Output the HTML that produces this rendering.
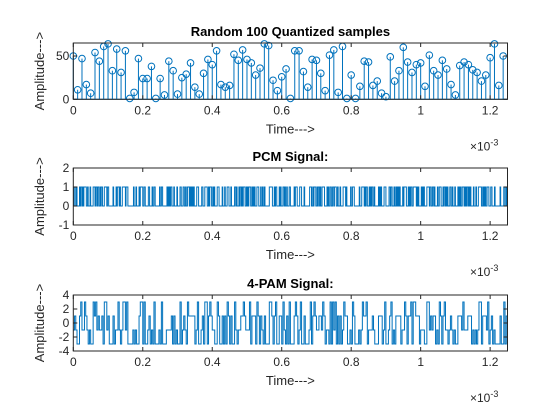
<!DOCTYPE html>
<html><head><meta charset="utf-8"><style>
body{margin:0;background:#fff;}
svg{display:block;font-family:"Liberation Sans",Arial,sans-serif;}
</style></head><body>
<svg id="fig" width="560" height="420" viewBox="0 0 560 420"></svg>
<script>
const samples=[50,11,47,17,7,54,44,61,64,33,58,31,56,1,8,47,24,24,38,1,24,5,44,33,6,25,29,42,14,6,30,46,40,56,17,14,16,52,45,57,46,42,28,36,64,62,22,10,26,35,1,56,56,32,14,46,45,30,10,51,57,8,61,1,28,1,15,44,43,16,21,7,3,49,21,33,60,43,31,40,42,15,51,33,28,45,35,17,5,39,43,40,34,31,21,28,48,64,16,50];
const xTicks=[0,0.2,0.4,0.6,0.8,1,1.2];
const xTickLabels=["0","0.2","0.4","0.6","0.8","1","1.2"];
const topYTicks=[0,50];
const pcmYTicks=[-1,0,1,2];
const pamYTicks=[-4,-2,0,2,4];
const pamLevels=[-3,-1,1,3];
const bitsPerSample=7;
const tMax=1.25; // x10^-3

const NS="http://www.w3.org/2000/svg";
const svg=document.getElementById('fig');
function el(tag,attrs,parent){const e=document.createElementNS(NS,tag);for(const k in attrs)e.setAttribute(k,attrs[k]);(parent||svg).appendChild(e);return e;}
function txt(s,attrs){const t=el('text',attrs);t.textContent=s;return t;}

const X0=73.3,X1=507.5;
const panels=[
 {name:'samples',top:43,bot:99.3,ymin:0,ymax:65,yt:topYTicks,title:'Random 100 Quantized samples',ty:36},
 {name:'pcm',top:168,bot:225,ymin:-1,ymax:2,yt:pcmYTicks,title:'PCM Signal:',ty:161},
 {name:'pam',top:295,bot:351,ymin:-4,ymax:4,yt:pamYTicks,title:'4-PAM Signal:',ty:288}
];
const xs=t=>X0+(t/tMax)*(X1-X0);
const blue='#0072BD';

const bits=[];
samples.forEach(v=>{for(let b=bitsPerSample-1;b>=0;b--)bits.push((v>>b)&1);});
const pam=[];
for(let i=0;i<bits.length;i+=2){pam.push(pamLevels[bits[i]*2+(bits[i+1]||0)]);}

panels.forEach(p=>{
 const ys=v=>p.bot-(v-p.ymin)/(p.ymax-p.ymin)*(p.bot-p.top);
 const g=el('g',{});
 
 
 if(p.name==='samples'){
  samples.forEach((v,i)=>{
   const t=i*tMax/samples.length, x=xs(t);
   const ln=el('line',{x1:x,y1:ys(0),x2:x,y2:ys(v),stroke:blue,'stroke-width':1},g);
   
   
   const c=el('circle',{cx:x,cy:ys(v),r:3.3,fill:'none',stroke:blue,'stroke-width':1},g);
   
   
  });
  const bl=el('line',{x1:X0,y1:ys(0),x2:X1,y2:ys(0),stroke:blue,'stroke-width':1},g);
  
  
 } else {
  const arr=p.name==='pcm'?bits:pam;
  const dt=tMax/arr.length;
  let d='';
  arr.forEach((v,i)=>{const xa=xs(i*dt),xb=xs((i+1)*dt),y=ys(v);d+=(i===0?'M':'L')+xa.toFixed(2)+','+y.toFixed(2)+'L'+xb.toFixed(2)+','+y.toFixed(2);});
  const path=el('path',{d:d,fill:'none',stroke:blue,'stroke-width':1},g);
  
  
 }
 const box=el('rect',{x:X0,y:p.top,width:X1-X0,height:p.bot-p.top,fill:'none',stroke:'#262626','stroke-width':1},g);
 
 
 xTicks.forEach((t,i)=>{
  const x=xs(t);
  el('line',{x1:x,y1:p.bot,x2:x,y2:p.bot-4,stroke:'#262626'},g);
  el('line',{x1:x,y1:p.top,x2:x,y2:p.top+4,stroke:'#262626'},g);
  const l=txt(xTickLabels[i],{x:x,y:p.bot+15,'font-size':12,'text-anchor':'middle',fill:'#262626'});
  
  
 });
 p.yt.forEach(v=>{
  const y=ys(v);
  el('line',{x1:X0,y1:y,x2:X0+4,y2:y,stroke:'#262626'},g);
  el('line',{x1:X1,y1:y,x2:X1-4,y2:y,stroke:'#262626'},g);
  const l=txt(String(v),{x:X0-4,y:y+4,'font-size':12,'text-anchor':'end',fill:'#262626'});
  
  
 });
 const ti=txt(p.title,{x:(X0+X1)/2,y:p.ty,'font-size':13,'font-weight':'bold','text-anchor':'middle',fill:'#000'});
 
 
 const xl=txt('Time--->',{x:(X0+X1)/2,y:p.bot+34,'font-size':13,'text-anchor':'middle',fill:'#262626'});
 
 
 const yl=txt('Amplitude--->',{x:0,y:0,'font-size':13,'text-anchor':'middle',fill:'#262626',transform:'translate(44,'+((p.top+p.bot)/2)+') rotate(-90)'});
 
 
 const ex=el('text',{x:470,y:p.bot+51,'font-size':12,fill:'#262626'});
 ex.innerHTML='×10<tspan dy="-5" font-size="9">-3</tspan>';
 
 
});
</script>
</body></html>
